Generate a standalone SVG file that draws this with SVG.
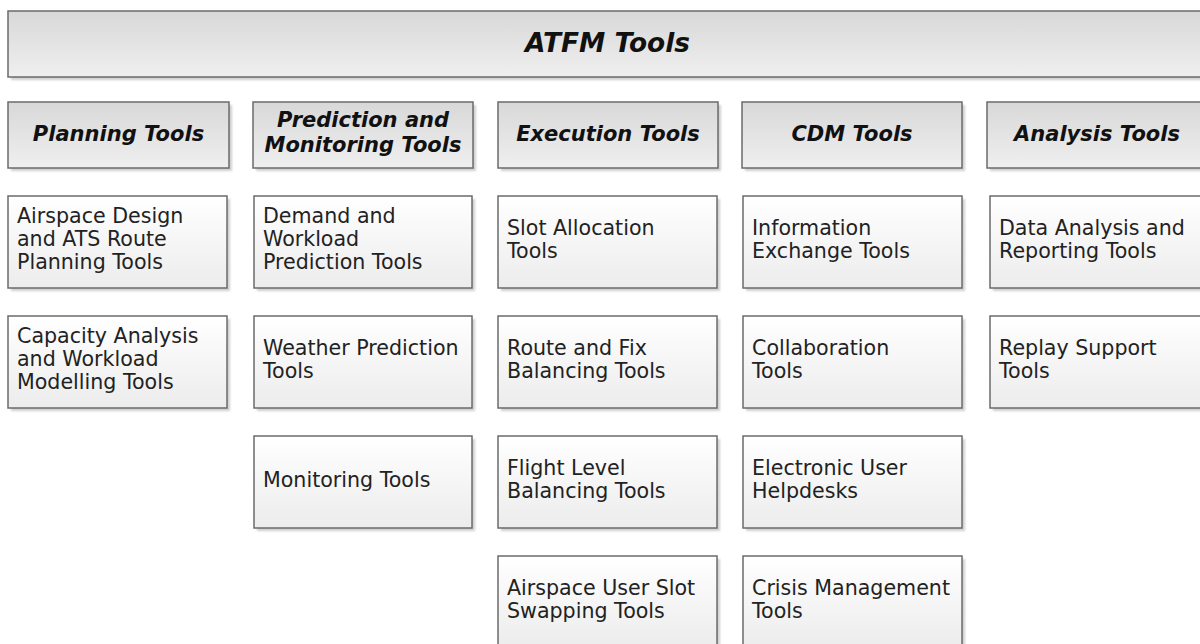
<svg xmlns="http://www.w3.org/2000/svg" width="1200" height="644" viewBox="0 0 1200 644">
  <style>
    .hdr { stroke: #6b6b6b; stroke-width: 1.5; fill: url(#gHdr); }
    .box { stroke: #6b6b6b; stroke-width: 1.5; fill: url(#gBox); }
    .sh { fill: #cfcfcf; filter: url(#blur); }
    .ht { font-family: "DejaVu Sans", Verdana, sans-serif; font-weight: bold; font-style: italic; font-size: 21px; fill: #111; text-anchor: middle; }
    .tt { font-family: "DejaVu Sans", Verdana, sans-serif; font-weight: bold; font-style: italic; font-size: 26.4px; fill: #111; text-anchor: middle; }
    .ct { font-family: "DejaVu Sans", Verdana, sans-serif; font-size: 20.6px; fill: #222; }
  </style>
  <defs>
    <linearGradient id="gHdr" x1="0" y1="0" x2="0" y2="1">
      <stop offset="0" stop-color="#d8d8d8"/>
      <stop offset="1" stop-color="#efefef"/>
    </linearGradient>
    <linearGradient id="gBox" x1="0" y1="0" x2="0" y2="1">
      <stop offset="0" stop-color="#ffffff"/>
      <stop offset="1" stop-color="#ececec"/>
    </linearGradient>
    <filter id="blur" x="-5%" y="-5%" width="110%" height="110%">
      <feGaussianBlur stdDeviation="1"/>
    </filter>
  </defs>
  <rect width="1200" height="644" fill="#ffffff"/>

  <g id="atfm-tools">
    <rect class="sh" x="11" y="14" width="1199" height="66"/>
    <rect class="hdr" x="8" y="11" width="1199" height="66"/>
    <text class="tt" x="607.5" y="52">ATFM Tools</text>
  </g>

  <g id="planning-tools">
    <rect class="sh" x="11" y="105" width="221" height="66"/>
    <rect class="hdr" x="8" y="102" width="221" height="66"/>
    <text class="ht" x="118.5" y="141">Planning Tools</text>
  </g>
  <g id="prediction-monitoring-tools">
    <rect class="sh" x="256" y="105" width="220" height="66"/>
    <rect class="hdr" x="253" y="102" width="220" height="66"/>
    <text class="ht" x="363" y="127">Prediction and</text>
    <text class="ht" x="363" y="152">Monitoring Tools</text>
  </g>
  <g id="execution-tools">
    <rect class="sh" x="501" y="105" width="220" height="66"/>
    <rect class="hdr" x="498" y="102" width="220" height="66"/>
    <text class="ht" x="608" y="141">Execution Tools</text>
  </g>
  <g id="cdm-tools">
    <rect class="sh" x="745" y="105" width="220" height="66"/>
    <rect class="hdr" x="742" y="102" width="220" height="66"/>
    <text class="ht" x="852" y="141">CDM Tools</text>
  </g>
  <g id="analysis-tools">
    <rect class="sh" x="990" y="105" width="220" height="66"/>
    <rect class="hdr" x="987" y="102" width="220" height="66"/>
    <text class="ht" x="1097" y="141">Analysis Tools</text>
  </g>

  <!-- Planning column -->
  <g id="airspace-design">
    <rect class="sh" x="11" y="199" width="219" height="92"/>
    <rect class="box" x="8" y="196" width="219" height="92"/>
    <text class="ct" x="17" y="223">Airspace Design</text>
    <text class="ct" x="17" y="246">and ATS Route</text>
    <text class="ct" x="17" y="269">Planning Tools</text>
  </g>
  <g id="capacity-analysis">
    <rect class="sh" x="11" y="319" width="219" height="92"/>
    <rect class="box" x="8" y="316" width="219" height="92"/>
    <text class="ct" x="17" y="343">Capacity Analysis</text>
    <text class="ct" x="17" y="366">and Workload</text>
    <text class="ct" x="17" y="389">Modelling Tools</text>
  </g>

  <!-- Prediction column -->
  <g id="demand-workload">
    <rect class="sh" x="257" y="199" width="218" height="92"/>
    <rect class="box" x="254" y="196" width="218" height="92"/>
    <text class="ct" x="263" y="223">Demand and</text>
    <text class="ct" x="263" y="246">Workload</text>
    <text class="ct" x="263" y="269">Prediction Tools</text>
  </g>
  <g id="weather-prediction">
    <rect class="sh" x="257" y="319" width="218" height="92"/>
    <rect class="box" x="254" y="316" width="218" height="92"/>
    <text class="ct" x="263" y="355">Weather Prediction</text>
    <text class="ct" x="263" y="378">Tools</text>
  </g>
  <g id="monitoring">
    <rect class="sh" x="257" y="439" width="218" height="92"/>
    <rect class="box" x="254" y="436" width="218" height="92"/>
    <text class="ct" x="263" y="487">Monitoring Tools</text>
  </g>

  <!-- Execution column -->
  <g id="slot-allocation">
    <rect class="sh" x="501" y="199" width="219" height="92"/>
    <rect class="box" x="498" y="196" width="219" height="92"/>
    <text class="ct" x="507" y="235">Slot Allocation</text>
    <text class="ct" x="507" y="258">Tools</text>
  </g>
  <g id="route-fix-balancing">
    <rect class="sh" x="501" y="319" width="219" height="92"/>
    <rect class="box" x="498" y="316" width="219" height="92"/>
    <text class="ct" x="507" y="355">Route and Fix</text>
    <text class="ct" x="507" y="378">Balancing Tools</text>
  </g>
  <g id="flight-level-balancing">
    <rect class="sh" x="501" y="439" width="219" height="92"/>
    <rect class="box" x="498" y="436" width="219" height="92"/>
    <text class="ct" x="507" y="475">Flight Level</text>
    <text class="ct" x="507" y="498">Balancing Tools</text>
  </g>
  <g id="slot-swapping">
    <rect class="sh" x="501" y="559" width="219" height="92"/>
    <rect class="box" x="498" y="556" width="219" height="92"/>
    <text class="ct" x="507" y="595">Airspace User Slot</text>
    <text class="ct" x="507" y="618">Swapping Tools</text>
  </g>

  <!-- CDM column -->
  <g id="information-exchange">
    <rect class="sh" x="746" y="199" width="219" height="92"/>
    <rect class="box" x="743" y="196" width="219" height="92"/>
    <text class="ct" x="752" y="235">Information</text>
    <text class="ct" x="752" y="258">Exchange Tools</text>
  </g>
  <g id="collaboration">
    <rect class="sh" x="746" y="319" width="219" height="92"/>
    <rect class="box" x="743" y="316" width="219" height="92"/>
    <text class="ct" x="752" y="355">Collaboration</text>
    <text class="ct" x="752" y="378">Tools</text>
  </g>
  <g id="electronic-helpdesks">
    <rect class="sh" x="746" y="439" width="219" height="92"/>
    <rect class="box" x="743" y="436" width="219" height="92"/>
    <text class="ct" x="752" y="475">Electronic User</text>
    <text class="ct" x="752" y="498">Helpdesks</text>
  </g>
  <g id="crisis-management">
    <rect class="sh" x="746" y="559" width="219" height="92"/>
    <rect class="box" x="743" y="556" width="219" height="92"/>
    <text class="ct" x="752" y="595">Crisis Management</text>
    <text class="ct" x="752" y="618">Tools</text>
  </g>

  <!-- Analysis column -->
  <g id="data-analysis">
    <rect class="sh" x="993" y="199" width="219" height="92"/>
    <rect class="box" x="990" y="196" width="219" height="92"/>
    <text class="ct" x="999" y="235">Data Analysis and</text>
    <text class="ct" x="999" y="258">Reporting Tools</text>
  </g>
  <g id="replay-support">
    <rect class="sh" x="993" y="319" width="219" height="92"/>
    <rect class="box" x="990" y="316" width="219" height="92"/>
    <text class="ct" x="999" y="355">Replay Support</text>
    <text class="ct" x="999" y="378">Tools</text>
  </g>

  <g id="connectors"></g>
</svg>
